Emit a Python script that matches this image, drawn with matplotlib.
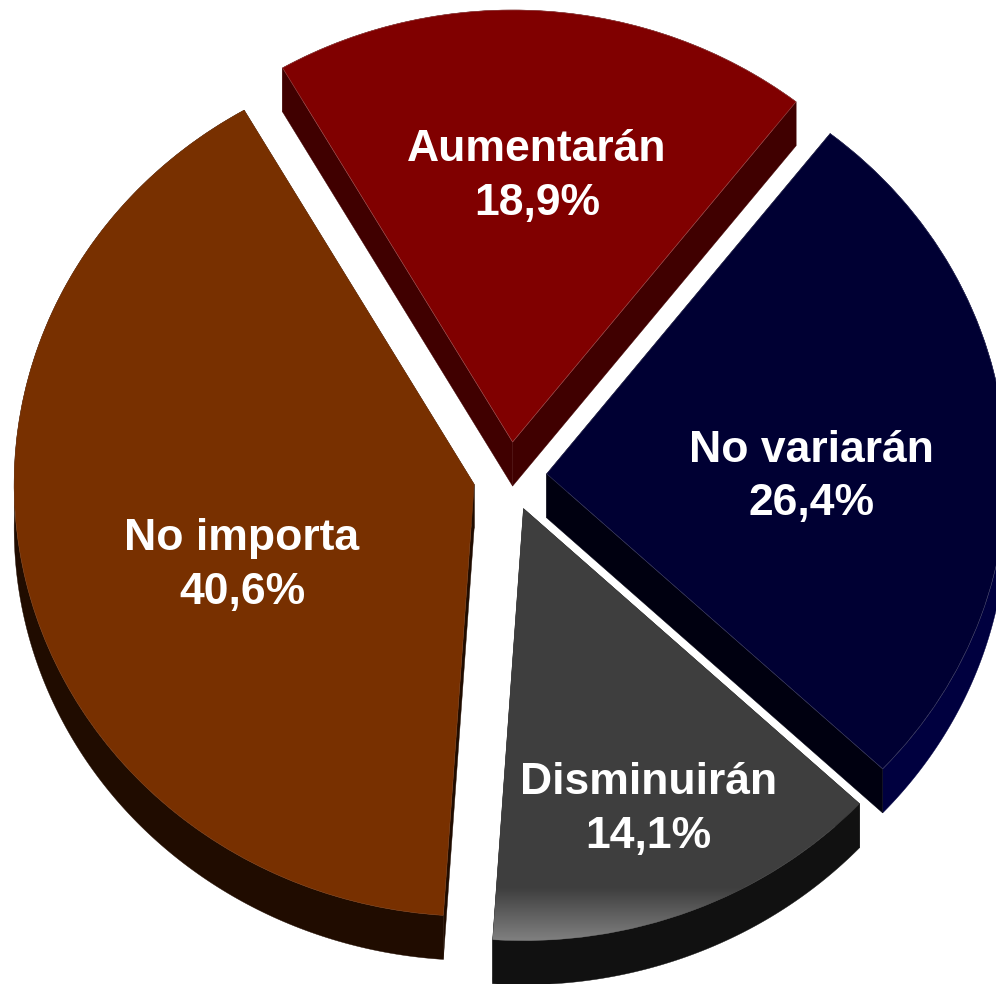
import numpy as np
import matplotlib
matplotlib.use('Agg')
import matplotlib.pyplot as plt
from matplotlib.colors import LinearSegmentedColormap

# datos del grafico
categorias = ['Aumentarán', 'No variarán', 'Disminuirán', 'No importa']
valores = [18.9, 26.4, 14.1, 40.6]

# colores: cara superior, borde fino, lado curvo, caras rectas
colores = ['#800000', '#000033', '#3e3e3e', '#783000']
bordes = ['#a05050', '#3c3c60', '#3e3e3e', '#7c3c14']
lado_arco = ['#400000', '#00003f', '#111111', '#200c00']
lado_recto = ['#400000', '#000010', '#111111', '#200c00']

# posicion de las etiquetas (fraccion de los ejes)
pos_etiquetas = [(0.539, 0.8205), (0.815, 0.5155), (0.651, 0.1775), (0.243, 0.4255)]

profundidad = 0.102

fig = plt.figure(figsize=(9.96, 9.84), dpi=100)
ax = fig.add_axes([0, 0, 1, 1])

wedges, _ = ax.pie(valores, explode=[0.08] * 4, startangle=120, counterclock=False,
                   colors=colores, wedgeprops={'linewidth': 0.4})
ax.set_aspect('auto')
ax.axis('off')

# lados del pastel, hacia abajo desde cada porcion
for i, w in enumerate(wedges):
    w.set_edgecolor(bordes[i])
    w.set_zorder(2)
    cx, cy = w.center
    t = np.radians(np.linspace(w.theta1, w.theta2, 200))
    ax_x = cx + w.r * np.cos(t)
    ax_y = cy + w.r * np.sin(t)
    ax.fill(np.r_[ax_x, ax_x[::-1]], np.r_[ax_y, ax_y[::-1] - profundidad],
            color=lado_arco[i], lw=0.3, zorder=1)
    for px, py in [(ax_x[0], ax_y[0]), (ax_x[-1], ax_y[-1])]:
        ax.fill([cx, px, px, cx], [cy, py, py - profundidad, cy - profundidad],
                color=lado_recto[i], lw=0.3, zorder=1.5)

# brillo en la parte baja de Disminuirán
cmap = LinearSegmentedColormap.from_list('brillo', ['#808080', '#3e3e3e'])
grad = np.linspace(0, 1, 64).reshape(-1, 1)
img = ax.imshow(grad, cmap=cmap, aspect='auto', origin='lower', zorder=2.5,
                extent=[-1.2, 1.2, -1.075, -0.95])
img.set_clip_path(wedges[2])
ax.set_xlim(-510 / 460, 486 / 460)
ax.set_ylim(-507.5 / 432, 476.5 / 432)

for cat, val, pos in zip(categorias, valores, pos_etiquetas):
    etiqueta = cat + '\n' + f'{val:.1f}%'.replace('.', ',')
    ax.text(pos[0], pos[1], etiqueta, transform=ax.transAxes, ha='center', va='center',
            color='white', fontsize=32, fontweight='bold', family='Liberation Sans',
            linespacing=1.39, zorder=3)

fig.savefig('out.png', dpi=100)
